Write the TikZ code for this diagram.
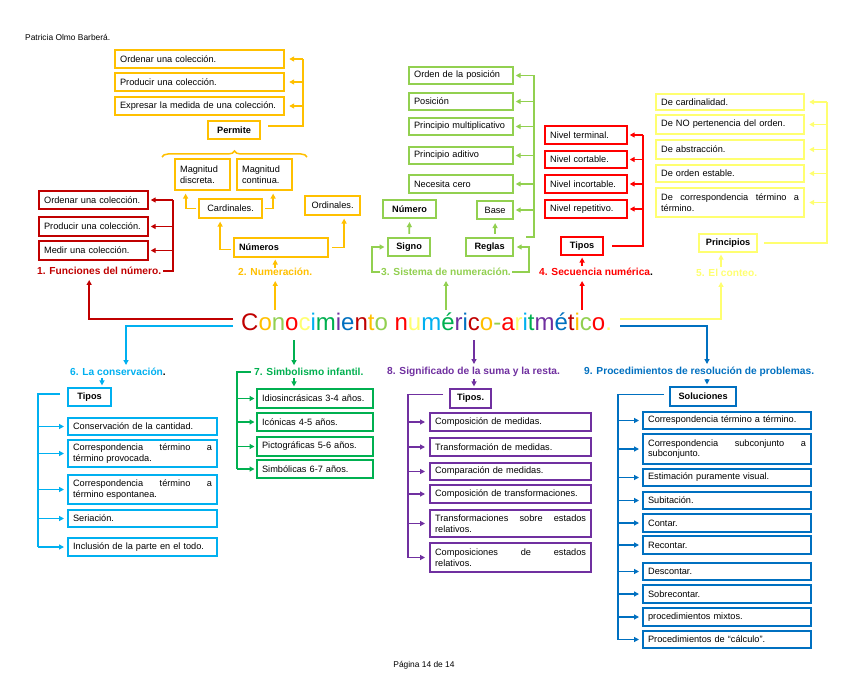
\documentclass[tikz,border=0pt]{standalone}
\usepackage{fontspec}
\setmainfont{Liberation Sans}
\usetikzlibrary{arrows.meta,calc,decorations.pathreplacing}
\definecolor{cA}{HTML}{C00000}
\definecolor{cB}{HTML}{FFC000}
\definecolor{cC}{HTML}{92D050}
\definecolor{cD}{HTML}{FF0000}
\definecolor{cE}{HTML}{FFFF70}
\definecolor{cF}{HTML}{00B0F0}
\definecolor{cG}{HTML}{00B050}
\definecolor{cH}{HTML}{7030A0}
\definecolor{cI}{HTML}{0070C0}
\hyphenpenalty=10000
\exhyphenpenalty=10000
\newcommand\bxfont{\fontsize{9.2}{10.6}\selectfont}
\newcommand\bxbold{\bfseries\fontsize{9.2}{10.6}\selectfont}
\newcommand\labfont{\bfseries\fontsize{10.2}{12}\selectfont}
\newcommand\mkbox[7]{%
 \pgfmathsetmacro\bxw{#5-#3-12}%
 \pgfmathsetmacro\bxh{#6-#4-2}%
 \pgfmathsetmacro\bxy{(#4+#6)/2}%
 \pgfmathsetmacro\bxx{#3+1}%
 \node[bxs,#1,text width=\bxw pt,minimum height=\bxh pt] (#2) at (\bxx,\bxy) {#7};}
\newcommand\tl[2]{\textcolor{#1}{#2}}
\tikzset{
 bxs/.style={draw, line width=2.2pt, inner xsep=5pt, inner ysep=1pt, align=left, anchor=west, font=\bxfont, text=black},
 hd/.style={font=\bxbold, align=center},
 ctr/.style={align=center},
 jus/.style={align=justify},
 cn/.style={line width=1.8pt},
 ar/.style={cn, -{Triangle[length=5pt,width=5pt]}, shorten >=1.5pt},
 lab/.style={inner sep=0, anchor=west, font=\labfont},
 l1/.style={cn, draw=cA}, a1/.style={ar, draw=cA},
 l2/.style={cn, draw=cB}, a2/.style={ar, draw=cB},
 l3/.style={cn, draw=cC}, a3/.style={ar, draw=cC},
 l4/.style={cn, draw=cD}, a4/.style={ar, draw=cD},
 l5/.style={cn, draw=cE}, a5/.style={ar, draw=cE},
 l6/.style={cn, draw=cF}, a6/.style={ar, draw=cF},
 l7/.style={cn, draw=cG}, a7/.style={ar, draw=cG},
 l8/.style={cn, draw=cH}, a8/.style={ar, draw=cH},
 l9/.style={cn, draw=cI}, a9/.style={ar, draw=cI},
}
\begin{document}
\begin{tikzpicture}[x=1pt,y=-1pt]
\fill[white] (0,0) rectangle (848,679);
\useasboundingbox (0,0) rectangle (848,679);

\node[anchor=west, inner sep=0, font=\fontsize{8.4}{10}\selectfont] (hdr) at (25,37) {Patricia Olmo Barberá.};
\node[inner sep=0, font=\fontsize{8.4}{10}\selectfont] (ftr) at (424,665) {Página 14 de 14};

% title
\node[inner sep=0, anchor=base west, font=\fontsize{24}{28}\selectfont] (T) at (241,330)
 {\tl{cA}{C}\tl{cB}{o}\tl{cC}{n}\tl{cD}{o}\tl{cE}{c}\tl{cF}{i}\tl{cG}{m}\tl{cH}{i}\tl{cI}{e}\tl{cA}{n}\tl{cB}{t}\tl{cC}{o} \tl{cD}{n}\tl{cE}{u}\tl{cF}{m}\tl{cG}{é}\tl{cH}{r}\tl{cI}{i}\tl{cA}{c}\tl{cB}{o}\tl{cC}{-}\tl{cD}{a}\tl{cE}{r}\tl{cF}{i}\tl{cG}{t}\tl{cH}{m}\tl{cI}{é}\tl{cA}{t}\tl{cB}{i}\tl{cC}{c}\tl{cD}{o}\tl{cE}{.}};

% section labels
\node[lab, text=cA] (L1) at (37,271) {1. Funciones del número.};
\node[lab, text=cB] (L2) at (238,272) {2. Numeración.};
\node[lab, text=cC] (L3) at (381,272) {3. Sistema de numeración.};
\node[lab, text=cD] (L4) at (539,272) {4. Secuencia numérica\textcolor{black}{.}};
\node[lab, text=cE] (L5) at (696,273) {5. El conteo.};
\node[lab, text=cF] (L6) at (70,372) {6. La conservación\textcolor{black}{.}};
\node[lab, text=cG] (L7) at (254,372) {7. Simbolismo infantil.};
\node[lab, text=cH] (L8) at (387,372) {8. Significado de la suma y la resta.};
\node[lab, text=cI] (L9) at (584,372) {9. Procedimientos de resolución de problemas.};

% section 1
\mkbox{draw=cA}{f1}{37}{190}{148}{210}{Ordenar una colección.}
\mkbox{draw=cA}{f2}{37}{216}{148}{237}{Producir una colección.}
\mkbox{draw=cA}{f3}{37}{240}{148}{261}{Medir una colección.}

% section 2
\mkbox{draw=cB}{p1}{113}{49}{284}{69}{Ordenar una colección.}
\mkbox{draw=cB}{p2}{113}{72}{284}{92}{Producir una colección.}
\mkbox{draw=cB}{p3}{113}{96}{284}{116}{Expresar la medida de una colección.}
\mkbox{draw=cB,hd}{perm}{206}{120}{260}{140}{Permite}
\mkbox{draw=cB}{md}{173}{158}{230}{191}{Magnitud\\discreta.}
\mkbox{draw=cB}{mc}{235}{158}{292}{191}{Magnitud\\continua.}
\mkbox{draw=cB,ctr}{cd}{197}{198}{262}{219}{Cardinales.}
\mkbox{draw=cB,ctr}{od}{303}{195}{360}{216}{Ordinales.}
\mkbox{draw=cB,font=\bxbold}{nm}{232}{237}{328}{258}{Números}

% section 3
\mkbox{draw=cC}{s1}{407}{66}{513}{85}{Orden de la posición}
\mkbox{draw=cC}{s2}{407}{92}{513}{111}{Posición}
\mkbox{draw=cC}{s3}{407}{117}{513}{136}{Principio multiplicativo}
\mkbox{draw=cC}{s4}{407}{146}{513}{165}{Principio aditivo}
\mkbox{draw=cC}{s5}{407}{174}{513}{194}{Necesita cero}
\mkbox{draw=cC,hd}{num}{381}{199}{436}{219}{Número}
\mkbox{draw=cC,ctr}{bs}{475}{200}{513}{220}{Base}
\mkbox{draw=cC,hd}{sg}{386}{237}{430}{257}{Signo}
\mkbox{draw=cC,hd}{rg}{464}{237}{513}{257}{Reglas}

% section 4
\mkbox{draw=cD}{n1}{543}{125}{627}{145}{Nivel terminal.}
\mkbox{draw=cD}{n2}{543}{150}{627}{169}{Nivel cortable.}
\mkbox{draw=cD}{n3}{543}{174}{627}{194}{Nivel incortable.}
\mkbox{draw=cD}{n4}{543}{199}{627}{219}{Nivel repetitivo.}
\mkbox{draw=cD,hd}{tp4}{559}{236}{603}{256}{Tipos}

% section 5
\mkbox{draw=cE}{e1}{654}{93}{804}{111}{De cardinalidad.}
\mkbox{draw=cE}{e2}{654}{114}{804}{135}{De NO pertenencia del orden.}
\mkbox{draw=cE}{e3}{654}{139}{804}{160}{De abstracción.}
\mkbox{draw=cE}{e4}{654}{164}{804}{183}{De orden estable.}
\mkbox{draw=cE,jus}{e5}{654}{187}{804}{218}{De correspondencia término a\linebreak término.}
\mkbox{draw=cE,hd}{pr5}{697}{233}{757}{253}{Principios}

% section 6
\mkbox{draw=cF,hd}{tp6}{66}{387}{111}{407}{Tipos}
\mkbox{draw=cF}{c1b}{66}{417}{217}{436}{Conservación de la cantidad.}
\mkbox{draw=cF,jus}{c2b}{66}{439}{217}{468}{Correspondencia término a\linebreak término provocada.}
\mkbox{draw=cF,jus}{c3b}{66}{474}{217}{505}{Correspondencia término a\linebreak término espontanea.}
\mkbox{draw=cF}{c4b}{66}{509}{217}{528}{Seriación.}
\mkbox{draw=cF}{c5b}{66}{537}{217}{557}{Inclusión de la parte en el todo.}

% section 7
\mkbox{draw=cG}{g1}{255}{388}{373}{409}{Idiosincrásicas 3-4 años.}
\mkbox{draw=cG}{g2}{255}{412}{373}{432}{Icónicas 4-5 años.}
\mkbox{draw=cG}{g3}{255}{436}{373}{457}{Pictográficas 5-6 años.}
\mkbox{draw=cG}{g4}{255}{459}{373}{479}{Simbólicas 6-7 años.}

% section 8
\mkbox{draw=cH,hd}{tp8}{448}{388}{491}{409}{Tipos.}
\mkbox{draw=cH}{m1}{428}{412}{591}{432}{Composición de medidas.}
\mkbox{draw=cH}{m2}{428}{437}{591}{457}{Transformación de medidas.}
\mkbox{draw=cH}{m3}{428}{462}{591}{481}{Comparación de medidas.}
\mkbox{draw=cH}{m4}{428}{484}{591}{504}{Composición de transformaciones.}
\mkbox{draw=cH,jus}{m5}{428}{509}{591}{538}{Transformaciones sobre estados\linebreak relativos.}
\mkbox{draw=cH,jus}{m6}{428}{542}{591}{573}{Composiciones de estados\linebreak relativos.}

% section 9
\mkbox{draw=cI,hd}{sol}{668}{386}{736}{407}{Soluciones}
\mkbox{draw=cI}{q1}{641}{411}{811}{430}{Correspondencia término a término.}
\mkbox{draw=cI,jus}{q2}{641}{433}{811}{465}{Correspondencia subconjunto a\linebreak subconjunto.}
\mkbox{draw=cI}{q3}{641}{468}{811}{487}{Estimación puramente visual.}
\mkbox{draw=cI}{q4}{641}{491}{811}{510}{Subitación.}
\mkbox{draw=cI}{q5}{641}{513}{811}{533}{Contar.}
\mkbox{draw=cI}{q6}{641}{535}{811}{555}{Recontar.}
\mkbox{draw=cI}{q7}{641}{562}{811}{581}{Descontar.}
\mkbox{draw=cI}{q8}{641}{584}{811}{604}{Sobrecontar.}
\mkbox{draw=cI}{q9}{641}{607}{811}{627}{procedimientos mixtos.}
\mkbox{draw=cI}{q10}{641}{630}{811}{649}{Procedimientos de “cálculo”.}

% ---------- connectors ----------
% section 1
\coordinate (sp1) at (173,200);
\draw[l1] ([xshift=2pt]L1.east) -| (sp1);
\foreach \n in {f1,f2,f3} \draw[a1] (\n.east -| sp1) -- (\n.east);
\draw[a1, shorten >=5pt] ($(T.west)+(-8,-2)$) -| ([xshift=-10pt]L1.south);

% section 2
\coordinate (sp2) at (303,59);
\draw[l2] ($(perm.east)+(7,-4)$) -| (sp2);
\foreach \n in {p1,p2,p3} \draw[a2, shorten >=4pt] (\n.east -| sp2) -- (\n.east);
\draw[l2, decorate, decoration={brace, amplitude=6pt}, line width=1.5pt] (162,157) -- (307,157);
\draw[a2] (L2.north) -- (L2.north |- nm.south);
\draw[a2, shorten >=2.5pt] ($(nm.west)+(-2,2)$) -| ([xshift=-10.5pt]cd.south);
\draw[a2, shorten >=2.5pt] ($(nm.east)+(3,0)$) -| ([xshift=11.5pt]od.south);
\draw[a2, shorten >=2.5pt] ([xshift=-2pt]cd.west) -| ([xshift=-17pt]md.south);
\draw[a2, shorten >=2.5pt] ([xshift=2pt]cd.east) -| ([xshift=8.5pt]mc.south);
\draw[a2, shorten >=5pt, shorten <=2pt] (T.north -| L2.south) -- (L2.south);

% section 3
\draw[a3, shorten <=3pt, shorten >=3pt] (sg.north) -- (num.south);
\draw[a3, shorten <=3pt, shorten >=3pt] (rg.north -| bs.south) -- (bs.south);
\coordinate (sp3) at (534,75.5);
\draw[l3] ($(rg.north east)+(12,0)$) -| (sp3);
\foreach \n in {s1,s2,s3,s4,s5,bs} \draw[a3] (\n.east -| sp3) -- (\n.east);
\draw[a3] ([xshift=-1pt]L3.west) -| ([xshift=-15pt]sg.west) -- ([xshift=-1pt]sg.west);
\draw[a3] ([xshift=1pt]L3.east) -| ([xshift=15pt]rg.east) -- ([xshift=1pt]rg.east);
\draw[a3, shorten >=5pt, shorten <=2pt] (T.north -| L3.south) -- (L3.south);

% section 4
\coordinate (sp4) at (643,135);
\draw[l4] ([xshift=8pt]tp4.east) -| (sp4);
\foreach \n in {n1,n2,n3,n4} \draw[a4] (\n.east -| sp4) -- (\n.east);
\draw[a4, shorten <=2pt] (L4.north -| tp4.south) -- (tp4.south);
\draw[a4, shorten >=5pt, shorten <=2pt] (T.north -| tp4.south) -- (L4.south -| tp4.south);

% section 5
\coordinate (sp5) at (827,102);
\coordinate (x5) at (721,0);
\draw[l5] ([xshift=6pt]pr5.east) -| (sp5);
\foreach \n in {e1,e2,e3,e4,e5} \draw[a5, shorten >=4pt] (\n.east -| sp5) -- (\n.east);
\draw[a5, shorten <=2pt] (L5.north -| x5) -- (pr5.south -| x5);
\draw[a5, shorten >=5pt] ($(T.east)+(8,-2)$) -| (L5.south -| x5);

% section 6
\coordinate (x6) at (126,0);
\coordinate (a6x) at (102,0);
\coordinate (sp6) at (38,547);
\draw[a6, shorten >=3pt] ($(T.west)+(-8,5)$) -| (L6.north -| x6);
\draw[a6, shorten <=2pt] (L6.south -| a6x) -- (tp6.north -| a6x);
\draw[l6] ($(tp6.west)+(-7,-3)$) -| (sp6);
\foreach \n in {c1b,c2b,c3b,c4b,c5b} \draw[a6, shorten >=3pt] (\n.west -| sp6) -- (\n.west);

% section 7
\coordinate (a7x) at (294,0);
\coordinate (sp7) at (237,469);
\draw[a7, shorten <=10pt, shorten >=3pt] (T.south -| a7x) -- (L7.north -| a7x);
\draw[a7, shorten <=2pt] (L7.south -| a7x) -- (g1.north -| a7x);
\draw[l7] ([xshift=-3pt]L7.west) -| (sp7);
\foreach \n in {g1,g2,g3,g4} \draw[a7] (\n.west -| sp7) -- (\n.west);

% section 8
\coordinate (a8x) at (474,0);
\coordinate (sp8) at (408,557.5);
\draw[a8, shorten <=10pt, shorten >=3pt] (T.south -| a8x) -- (L8.north -| a8x);
\draw[a8, shorten <=2pt] (L8.south -| a8x) -- (tp8.north -| a8x);
\draw[l8] ($(tp8.west)+(-6,-4)$) -| (sp8);
\foreach \n in {m1,m2,m3,m4,m5,m6} \draw[a8, shorten >=4pt] (\n.west -| sp8) -- (\n.west);

% section 9
\coordinate (x9) at (707,0);
\coordinate (sp9) at (618,639.5);
\draw[a9, shorten >=3pt] ($(T.east)+(8,5)$) -| (L9.north -| x9);
\draw[a9, shorten <=2pt] (L9.south -| x9) -- (sol.north -| x9);
\draw[l9] ($(sol.west)+(-5,-2)$) -| (sp9);
\foreach \n in {q1,q2,q3,q4,q5,q6,q7,q8,q9,q10} \draw[a9, shorten >=3pt] (\n.west -| sp9) -- (\n.west);
\end{tikzpicture}
\end{document}
